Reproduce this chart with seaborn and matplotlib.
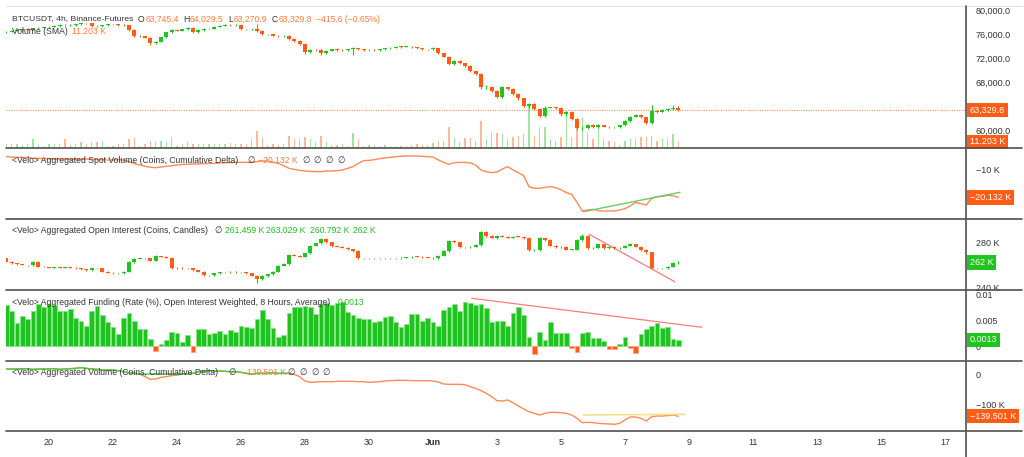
import numpy as np
import pandas as pd
import matplotlib
matplotlib.use("Agg")
import matplotlib.pyplot as plt
import matplotlib.transforms as mtransforms
from matplotlib.lines import Line2D
import seaborn as sns

# ------------------------------------------------------------------ data
bar_start = "2024-05-18 16:00"          # first 4h bar shown
price_open_first = 76390

price_close = [
    76500, 76670, 76780, 76890, 76860, 77060, 77170, 77230, 77340, 77450,
    77620, 77560, 77620, 77730, 77900, 77880, 77450, 77420, 77620, 77730,
    77710, 77620, 77560, 76780, 75770, 75740, 75490, 74540, 74820, 75550,
    76390, 76780, 76670, 76890, 77170, 76390, 76780, 76950, 77000, 77340,
    77510, 77620, 77600, 77640, 76890, 76870, 76950, 76610, 76050, 76030,
    75830, 75770, 75830, 75270, 74990, 74430, 73140, 73420, 73400, 72870,
    73310, 73540, 73420, 73400, 73540, 73700, 73540, 73420, 73440, 73420,
    73540, 73700, 73820, 73980, 73960, 73990, 73870, 73700, 73540, 73520,
    73700, 72870, 72300, 71080, 71580, 71190, 70740, 69960, 69400, 67160,
    67270, 66600, 65590, 67160, 66880, 66040, 65310, 64030, 64310, 63470,
    62350, 63750, 63780, 63640, 62630, 62960, 61850, 60280, 60390, 60840,
    60560, 60780, 60560, 60450, 60430, 60780, 61510, 62240, 62520, 62130,
    61230, 63190, 63080, 63360, 63520, 63745.4, 63329.8]

price_wick_up = [
    80, 120, 90, 110, 150, 100, 80, 120, 90, 110,
    150, 90, 100, 130, 120, 90, 140, 100, 80, 120,
    90, 110, 100, 120, 140, 90, 110, 130, 100, 120,
    90, 140, 110, 100, 160, 130, 90, 100, 110, 120,
    90, 130, 100, 110, 120, 90, 100, 840, 120, 100,
    110, 90, 180, 100, 120, 110, 90, 130, 100, 120,
    110, 90, 140, 100, 110, 160, 100, 90, 110, 80,
    100, 120, 90, 110, 100, 80, 110, 100, 90, 120,
    180, 100, 110, 130, 150, 120, 100, 140, 110, 120,
    300, 130, 160, 200, 120, 150, 100, 130, 220, 140,
    180, 260, 150, 120, 140, 160, 150, 130, 220, 180,
    140, 160, 120, 150, 110, 130, 160, 180, 150, 140,
    120, 1000, 200, 180, 220, 420, 284]

price_wick_dn = [
    120, 90, 100, 130, 80, 110, 90, 120, 100, 80,
    110, 130, 90, 100, 120, 80, 150, 110, 140, 90,
    100, 120, 80, 150, 170, 110, 130, 320, 180, 120,
    100, 90, 130, 110, 100, 150, 90, 120, 80, 100,
    110, 90, 120, 100, 130, 90, 110, 150, 140, 100,
    90, 120, 100, 150, 170, 130, 350, 160, 120, 220,
    110, 90, 120, 100, 110, 955, 100, 120, 90, 110,
    100, 80, 110, 90, 120, 100, 90, 130, 100, 110,
    120, 140, 130, 200, 160, 140, 180, 150, 170, 260,
    220, 200, 260, 180, 150, 170, 200, 240, 300, 160,
    250, 200, 120, 150, 210, 320, 180, 250, 300, 180,
    150, 170, 130, 160, 140, 120, 150, 130, 140, 160,
    200, 180, 150, 130, 120, 140, 59]

volume_k = [
    7.5, 7.5, 7.5, 6.3, 7.5, 16.5, 6.3, 4.5, 7.5, 7.5,
    7.5, 16.5, 6.3, 7.5, 10.5, 7.5, 10.5, 11.7, 12.3, 4.5,
    4.5, 7.5, 7.5, 16.5, 18.3, 4.5, 7.5, 12.3, 10.5, 13.5,
    10.5, 19.5, 4.5, 7.5, 10.5, 7.5, 7.5, 7.5, 7.5, 7.5,
    7.5, 7.5, 8.7, 7.5, 7.5, 7.5, 15.9, 30.3, 18.3, 6.3,
    7.5, 6.3, 7.5, 22.5, 15.9, 16.5, 20.7, 16.5, 10.5, 22.5,
    10.5, 6.3, 6.3, 7.5, 4.5, 26.7, 16.5, 4.5, 6.3, 6.3,
    4.5, 6.3, 4.5, 4.5, 3.3, 4.5, 6.3, 7.5, 6.3, 6.3,
    8.7, 12.3, 12.3, 38.7, 18.3, 10.5, 18.3, 18.3, 13.5, 48.3,
    16.5, 28.5, 26.7, 26.1, 16.5, 19.5, 22.5, 25.5, 76.5, 22.5,
    37.5, 37.5, 16.5, 13.5, 19.5, 67.5, 19.5, 37.5, 55.5, 28.5,
    16.5, 37.5, 15.9, 13.5, 10.5, 6.3, 13.5, 15.9, 15.9, 20.7,
    19.5, 22.5, 13.5, 15.9, 16.5, 25.5, 11.203]

spot_cvd_k = [
    -5.42, -5.54, -5.66, -5.66, -5.78, -6.02, -6.02, -6.14, -6.14, -6.26,
    -6.26, -6.26, -6.38, -6.38, -6.38, -6.26, -6.38, -6.50, -6.50, -6.62,
    -6.62, -6.50, -6.62, -7.22, -7.95, -8.43, -8.91, -9.27, -9.40, -9.15,
    -8.91, -8.67, -8.43, -8.19, -8.19, -8.07, -8.07, -7.95, -7.83, -7.83,
    -7.71, -7.59, -7.59, -7.47, -7.47, -7.47, -7.47, -7.22, -6.98, -6.98,
    -7.47, -7.83, -8.67, -9.64, -10.00, -10.36, -10.60, -10.72, -10.84, -10.84,
    -10.60, -10.60, -10.48, -10.24, -9.64, -9.03, -7.83, -6.86, -6.74, -6.50,
    -6.14, -5.90, -5.66, -5.42, -5.29, -5.17, -5.17, -5.17, -5.29, -5.42,
    -5.54, -6.62, -7.47, -8.19, -7.59, -7.47, -7.47, -7.71, -8.43, -10.24,
    -10.84, -11.20, -10.96, -9.88, -9.03, -10.24, -11.20, -12.29, -16.27, -16.87,
    -16.87, -16.51, -16.27, -16.63, -17.35, -18.44, -19.04, -21.94, -25.07, -24.71,
    -24.47, -24.95, -25.07, -25.07, -25.07, -24.71, -24.23, -23.26, -21.94, -22.42,
    -22.90, -20.49, -19.89, -19.77, -19.40, -19.53, -20.132]

oi_open_first = 265.7
oi_close_k = [
    262.7, 261.3, 260.4, 259.8, 259.6, 262.7, 258.3, 258.0, 257.5, 257.6,
    257.4, 257.8, 257.5, 256.9, 256.0, 255.4, 256.9, 257.0, 254.0, 253.1,
    252.5, 252.6, 254.0, 262.2, 265.1, 265.7, 265.6, 263.6, 267.7, 267.1,
    266.2, 256.9, 257.5, 256.9, 256.8, 255.4, 254.0, 251.0, 251.1, 252.5,
    253.4, 253.3, 254.0, 253.4, 253.3, 252.5, 250.4, 247.2, 250.1, 251.6,
    254.0, 259.2, 260.7, 268.6, 268.0, 267.1, 270.0, 276.8, 278.8, 282.6,
    279.7, 276.5, 275.9, 275.0, 273.6, 272.1, 265.7, 265.6, 265.7, 265.6,
    265.7, 265.8, 265.7, 265.6, 266.2, 266.5, 267.1, 267.0, 266.5, 266.2,
    265.7, 268.0, 272.1, 280.9, 279.7, 275.3, 275.2, 275.9, 277.4, 288.5,
    285.5, 283.8, 285.5, 284.7, 283.8, 284.7, 284.6, 283.2, 273.0, 273.1,
    283.2, 281.8, 276.8, 275.6, 275.7, 273.3, 273.4, 281.8, 285.5, 274.4,
    275.0, 278.0, 274.4, 275.9, 274.4, 275.0, 276.8, 278.0, 275.9, 273.0,
    270.9, 256.9, 256.8, 257.0, 258.3, 261.459, 262.0]

oi_wick_up = [
    0.5, 0.3, 0.4, 0.3, 0.4, 0.6, 0.4, 0.3, 0.4, 0.3,
    0.3, 0.5, 0.3, 0.4, 0.3, 0.4, 0.5, 0.3, 0.4, 0.3,
    0.4, 0.3, 0.5, 0.8, 0.6, 0.4, 0.5, 0.4, 0.7, 0.4,
    0.5, 0.4, 0.3, 0.4, 0.3, 0.4, 0.3, 0.4, 0.3, 0.5,
    0.4, 0.3, 0.4, 0.3, 0.4, 0.3, 0.4, 0.5, 0.6, 0.5,
    0.4, 0.6, 0.5, 0.8, 0.5, 0.6, 0.7, 0.8, 0.6, 1.2,
    0.8, 0.5, 0.4, 0.5, 0.4, 0.5, 0.6, 0.3, 0.4, 0.3,
    0.4, 0.3, 0.4, 0.3, 0.5, 0.4, 0.3, 0.4, 0.3, 0.4,
    0.5, 0.7, 0.8, 1.0, 1.2, 0.6, 0.5, 0.4, 0.6, 1.0,
    1.5, 0.6, 0.8, 0.7, 0.6, 0.7, 0.5, 0.6, 0.8, 0.6,
    0.8, 0.7, 0.6, 0.5, 0.6, 0.5, 0.4, 0.8, 1.5, 1.0,
    0.6, 0.7, 0.6, 0.5, 0.6, 0.4, 0.7, 1.0, 0.6, 0.5,
    0.5, 0.6, 0.4, 0.5, 0.7, 1.2, 1.03]

oi_wick_dn = [
    0.4, 0.3, 0.3, 0.4, 0.3, 0.4, 0.5, 0.3, 0.4, 0.3,
    0.4, 0.3, 0.4, 0.3, 0.4, 0.5, 0.4, 0.3, 0.5, 0.4,
    0.3, 0.4, 0.5, 0.6, 0.5, 0.4, 0.3, 0.6, 0.5, 0.4,
    0.5, 0.6, 0.4, 0.3, 0.4, 0.5, 0.4, 0.6, 0.4, 0.5,
    0.3, 0.4, 0.3, 0.4, 0.3, 0.5, 0.6, 3.5, 0.8, 0.5,
    0.4, 0.5, 0.6, 0.5, 0.7, 0.6, 0.5, 0.6, 0.5, 0.7,
    0.6, 0.5, 0.4, 0.5, 0.6, 0.5, 0.8, 0.4, 0.3, 0.4,
    0.3, 0.4, 0.3, 0.4, 0.3, 0.4, 0.3, 0.4, 0.3, 0.4,
    0.5, 0.6, 0.7, 0.8, 0.9, 0.7, 0.6, 0.5, 0.6, 0.8,
    0.9, 0.7, 0.8, 0.6, 0.7, 0.6, 0.5, 0.6, 1.0, 0.8,
    0.7, 0.6, 0.5, 0.6, 0.5, 0.7, 0.6, 0.6, 0.5, 0.8,
    0.7, 0.6, 0.5, 0.6, 0.5, 0.6, 0.5, 0.6, 0.7, 0.8,
    1.0, 0.8, 0.6, 0.5, 0.4, 0.6, 0.667]

funding_rate = [
    0.00804, 0.00694, 0.00447, 0.00590, 0.00525, 0.00687, 0.00824, 0.00759, 0.00824, 0.00804,
    0.00694, 0.00694, 0.00726, 0.00545, 0.00499, 0.00402, 0.00694, 0.00791, 0.00610, 0.00467,
    0.00370, 0.00233, 0.00545, 0.00642, 0.00493, 0.00331, 0.00331, 0.00136, -0.00084, 0.00045,
    0.00123, 0.00272, 0.00253, 0.00091, 0.00220, -0.00117, 0.00331, 0.00331, 0.00233, 0.00253,
    0.00298, 0.00240, 0.00318, 0.00285, 0.00396, 0.00370, 0.00350, 0.00525, 0.00707, 0.00525,
    0.00350, 0.00175, 0.00220, 0.00642, 0.00772, 0.00759, 0.00791, 0.00772, 0.00629, 0.00817,
    0.00837, 0.00804, 0.00850, 0.00869, 0.00674, 0.00610, 0.00545, 0.00532, 0.00532, 0.00480,
    0.00493, 0.00577, 0.00590, 0.00467, 0.00383, 0.00434, 0.00623, 0.00623, 0.00493, 0.00545,
    0.00467, 0.00402, 0.00707, 0.00772, 0.00824, 0.00694, 0.00856, 0.00850, 0.00804, 0.00824,
    0.00739, 0.00467, 0.00499, 0.00493, 0.00396, 0.00642, 0.00772, 0.00610, 0.00175, -0.00149,
    0.00272, 0.00123, 0.00480, 0.00253, 0.00253, 0.00253, -0.00039, -0.00117, 0.00253, 0.00272,
    0.00156, 0.00156, 0.00110, -0.00052, -0.00052, 0.00045, 0.00188, -0.00039, -0.00136, 0.00240,
    0.00331, 0.00396, 0.00447, 0.00350, 0.00383, 0.00136, 0.00130]

agg_cvd_k = [
    16.5, 16.5, 16.3, 17.6, 16.5, 15.4, 16.5, 16.4, 16.6, 17.6,
    15.4, 16.5, 17.6, 18.7, 20.9, 18.7, 16.5, 15.4, 13.2, 13.1,
    13.3, 11.0, 7.7, 4.4, 2.2, 0.0, -8.8, -17.6, -16.5, -11.0,
    -8.8, -5.5, -3.3, -0.2, 0.1, 2.2, 7.7, 9.9, 11.0, 9.9,
    9.8, 8.8, 7.7, 7.6, 5.5, 2.2, 0.0, 2.2, 2.1, 2.3,
    4.4, 2.2, 2.1, 2.2, -1.1, -8.8, -23.1, -27.5, -26.4, -25.3,
    -25.2, -25.4, -24.2, -24.1, -24.3, -24.2, -25.3, -25.2, -27.5, -26.4,
    -25.3, -23.1, -22.0, -20.9, -20.8, -21.0, -22.0, -21.9, -22.1, -22.0,
    -23.1, -26.4, -33.0, -34.1, -34.0, -34.2, -35.2, -41.8, -47.3, -55.0,
    -63.8, -74.8, -88.0, -89.1, -85.8, -94.6, -105.6, -115.5, -124.3, -129.8,
    -135.3, -129.8, -126.5, -126.4, -127.6, -129.8, -135.3, -146.3, -160.6, -159.5,
    -160.6, -162.8, -163.9, -165.0, -166.1, -162.8, -151.8, -141.9, -142.0, -146.3,
    -155.1, -140.8, -138.6, -138.5, -137.5, -135.3, -139.501]

# user-drawn trend lines (day position, value)
spot_trend_t, spot_trend_v = [36.70, 39.72], [-25.33, -18.31]
oi_trend_t, oi_trend_v = [36.88, 39.56], [286.8, 245.1]
fund_trend_t, fund_trend_v = [33.21, 40.40], [0.00936, 0.00372]
agg_trend_t, agg_trend_v = [36.70, 39.875], [-135.3, -133.0]

day_ticks = [20, 22, 24, 26, 28, 30, 32, 34, 36, 38, 40, 42, 44, 46, 48]
day_labels = ["20", "22", "24", "26", "28", "30", "Jun", "3", "5", "7", "9",
              "11", "13", "15", "17"]
price_ticks = [60000, 68000, 72000, 76000, 80000]
spot_ticks = [-10]
spot_tick_labels = ["\u221210 K"]
oi_ticks = [240, 280]
oi_tick_labels = ["240 K", "280 K"]
fund_ticks = [0, 0.005, 0.01]
fund_tick_labels = ["0", "0.005", "0.01"]
agg_ticks = [-100, 0]
agg_tick_labels = ["\u2212100 K", "0"]

# ------------------------------------------------------------------ style
sns.set_theme(style="white")
plt.rcParams["font.family"] = ["Liberation Sans", "DejaVu Sans"]

GREEN = "#1fc41f"
ORANGE = "#ff5c16"
LINE_OR = "#ff8a55"
TXT = "#333333"
VAL_OR = "#ff7a3d"
VAL_GR = "#22bb22"

W, H = 1024, 457
fig = plt.figure(figsize=(W / 100, H / 100), dpi=100, facecolor="white")

X_LEFT, X_RIGHT = 6, 966          # plot area in pixels
DAY_PX, DAY20_PX = 32.0, 49.0


def px_to_day(px):
    return 20 + (px - DAY20_PX) / DAY_PX


def add_panel(top, bottom):
    ax = fig.add_axes([X_LEFT / W, 1 - bottom / H, (X_RIGHT - X_LEFT) / W,
                       (bottom - top) / H])
    ax.set_facecolor("none")
    for s in ax.spines.values():
        s.set_visible(False)
    ax.set_xlim(px_to_day(X_LEFT), px_to_day(X_RIGHT))
    ax.set_xticks(day_ticks)
    ax.tick_params(axis="x", length=0, labelbottom=False)
    ax.yaxis.tick_right()
    ax.tick_params(axis="y", length=0, pad=7, labelsize=6.5, labelcolor=TXT)
    ax.grid(False)
    return ax


N = len(price_close)
times = pd.date_range(bar_start, periods=N, freq="4h")
t = ((times - pd.Timestamp("2024-05-01")) / pd.Timedelta(days=1)).to_numpy() + 1.0

# ---------------- price panel
ax_v = add_panel(5, 148)
ax_p = add_panel(5, 148)
ax_v.set_yticks([])
ax_v.set_ylim(0, 143 * 1.8)

c = np.array(price_close, dtype=float)
o = np.concatenate([[price_open_first], c[:-1]])
hi = np.maximum(o, c) + np.array(price_wick_up)
lo = np.minimum(o, c) - np.array(price_wick_dn)
up = c >= o
cols = np.where(up, GREEN, ORANGE)
vol_cols = np.where(up, "#9fe59f", "#ffb89a")

ax_v.bar(t, volume_k, width=0.05, color=vol_cols, linewidth=0)

ax_p.set_ylim(56980, 80973)
ax_p.vlines(t, lo, hi, colors=cols, linewidth=0.8, zorder=3)
ax_p.bar(t, np.maximum(np.abs(c - o), 70), bottom=np.minimum(o, c), width=0.125,
         color=cols, linewidth=0, zorder=4)
ax_p.axhline(c[-1], color=ORANGE, lw=0.7, ls=(0, (1, 1.5)), alpha=0.8, zorder=2)
ax_p.set_yticks(price_ticks)
ax_p.set_yticklabels([f"{v:,.1f}" for v in price_ticks])

# ---------------- spot CVD
ax_s = add_panel(148, 219)
ax_s.set_ylim(-27.97, -2.28)
sns.lineplot(x=t, y=spot_cvd_k, ax=ax_s, color=LINE_OR, linewidth=1.0)
sns.lineplot(x=spot_trend_t, y=spot_trend_v, ax=ax_s, color="#6cc86c", linewidth=1.0)
ax_s.set_yticks(spot_ticks)
ax_s.set_yticklabels(spot_tick_labels)

# ---------------- open interest candles
ax_o = add_panel(219, 290)
ax_o.set_ylim(237.9, 300.2)
oc = np.array(oi_close_k, dtype=float)
oo = np.concatenate([[oi_open_first], oc[:-1]])
ohi = np.maximum(oo, oc) + np.array(oi_wick_up)
olo = np.minimum(oo, oc) - np.array(oi_wick_dn)
ocols = np.where(oc >= oo, GREEN, ORANGE)
ax_o.vlines(t, olo, ohi, colors=ocols, linewidth=0.8, zorder=3)
ax_o.bar(t, np.maximum(np.abs(oc - oo), 0.35), bottom=np.minimum(oo, oc), width=0.125,
         color=ocols, linewidth=0, zorder=4)
sns.lineplot(x=oi_trend_t, y=oi_trend_v, ax=ax_o, color="#ff7b7b", linewidth=0.9)
ax_o.set_yticks(oi_ticks)
ax_o.set_yticklabels(oi_tick_labels)

# ---------------- funding
ax_f = add_panel(290, 361)
ax_f.set_ylim(-0.00284, 0.01097)
fr = np.array(funding_rate)
fcols = np.where(fr >= 0, GREEN, ORANGE)
fedge = np.where(fr >= 0, "#86e386", "#ffa07a")
ax_f.bar(t, fr, width=0.155, color=fcols, edgecolor=fedge, linewidth=0.5)
sns.lineplot(x=fund_trend_t, y=fund_trend_v, ax=ax_f, color="#ff7b7b", linewidth=0.9)
ax_f.set_yticks(fund_ticks)
ax_f.set_yticklabels(fund_tick_labels)

# ---------------- aggregated CVD
ax_a = add_panel(361, 431)
ax_a.set_ylim(-188.1, 42.9)
av = np.array(agg_cvd_k)
sns.lineplot(x=t, y=av, ax=ax_a, color=LINE_OR, linewidth=1.0)
sns.lineplot(x=t, y=np.where(av >= 0, av, np.nan), ax=ax_a, color="#3fd13f", linewidth=1.0)
sns.lineplot(x=agg_trend_t, y=agg_trend_v, ax=ax_a, color="#f6e08a", linewidth=1.2)
ax_a.set_yticks(agg_ticks)
ax_a.set_yticklabels(agg_tick_labels)
ax_a.set_xticklabels(day_labels)
ax_a.tick_params(axis="x", labelbottom=True, pad=5, labelsize=6.5, labelcolor=TXT)
for lab in ax_a.get_xticklabels():
    if lab.get_text() == "Jun":
        lab.set_fontweight("bold")

for a in (ax_p, ax_s, ax_o, ax_f, ax_a, ax_v):
    a.set_xlabel("")
    a.set_ylabel("")


# ---------------- value boxes on right scale
def value_box(ax, y, s, fc):
    tr = mtransforms.blended_transform_factory(ax.transAxes, ax.transData)
    tr = mtransforms.offset_copy(tr, fig=fig, x=4, y=0, units="dots")
    ax.text(1.0, y, s, transform=tr, ha="left", va="center", color="white",
            fontsize=6.5, clip_on=False, zorder=20,
            bbox=dict(boxstyle="square,pad=0.3", fc=fc, ec="none"))


value_box(ax_p, c[-1], "63,329.8", ORANGE)
value_box(ax_p, 56980 + (volume_k[-1] / 1.8) / 143 * (80973 - 56980), "11.203 K", ORANGE)
value_box(ax_s, spot_cvd_k[-1], "\u221220.132 K", ORANGE)
value_box(ax_o, oi_close_k[-1], "262 K", GREEN)
value_box(ax_f, funding_rate[-1], "0.0013", GREEN)
value_box(ax_a, agg_cvd_k[-1], "\u2212139.501 K", ORANGE)


# ---------------- separators
def hline(ypx, x0=6, x1=1022, color="#505050", lw=1.2):
    fig.add_artist(Line2D([x0 / W, x1 / W], [1 - ypx / H] * 2, color=color, lw=lw))


hline(5.5, color="#e4e4e4", lw=0.8)
for ypx in (148, 219, 290, 361, 431):
    hline(ypx)
fig.add_artist(Line2D([966 / W] * 2, [0, 1 - 5.5 / H], color="#505050", lw=1.2))

# ---------------- legend texts
renderer = fig.canvas.get_renderer()
FS = 6.25


def chain(xpx, ypx, parts, gap=2.0, fs=FS):
    x = xpx
    for s, col in parts:
        tx = fig.text(x / W, 1 - ypx / H, s, color=col, fontsize=fs, ha="left",
                      va="center", zorder=30)
        bb = tx.get_window_extent(renderer=renderer)
        x = bb.x1 + gap


chain(12, 19, [("BTCUSDT, 4h, Binance-Futures", TXT)], fs=6.1)
chain(138, 19, [("O", TXT), ("63,745.4", VAL_OR)], gap=0.5)
chain(183, 19, [("H", TXT), ("64,029.5", VAL_OR)], gap=0.5)
chain(228, 19, [("L", TXT), ("63,270.9", VAL_OR)], gap=0.5)
chain(272, 19, [("C", TXT), ("63,329.8", VAL_OR)], gap=0.5)
chain(316, 19, [("\u2212415.6 (\u22120.65%)", VAL_OR)])
chain(12, 32, [("Volume (SMA)", TXT)])
chain(72, 32, [("11.203 K", VAL_OR)])

chain(12, 160.5, [("<Velo> Aggregated Spot Volume (Coins, Cumulative Delta)", TXT)])
chain(247, 160.5, [("\u2205", TXT)])
chain(258, 160.5, [("\u221220.132 K", VAL_OR)])
for xp in (302, 313, 325, 337):
    chain(xp, 160.5, [("\u2205", TXT)])

chain(12, 230.7, [("<Velo> Aggregated Open Interest (Coins, Candles)", TXT)])
chain(214, 230.7, [("\u2205", TXT)])
chain(225, 230.7, [("261.459 K", VAL_GR)])
chain(266, 230.7, [("263.029 K", VAL_GR)])
chain(310, 230.7, [("260.792 K", VAL_GR)])
chain(353, 230.7, [("262 K", VAL_GR)])

chain(12, 302.3, [("<Velo> Aggregated Funding (Rate (%), Open Interest Weighted, 8 Hours, Average)", TXT)])
chain(338, 302.3, [("0.0013", VAL_GR)])

chain(12, 372.7, [("<Velo> Aggregated Volume (Coins, Cumulative Delta)", TXT)])
chain(228, 372.7, [("\u2205", TXT)])
chain(242, 372.7, [("\u2212139.501 K", VAL_OR)])
for xp in (287, 299, 311, 322):
    chain(xp, 372.7, [("\u2205", TXT)])

fig.savefig("out.png", dpi=100, facecolor="white")
